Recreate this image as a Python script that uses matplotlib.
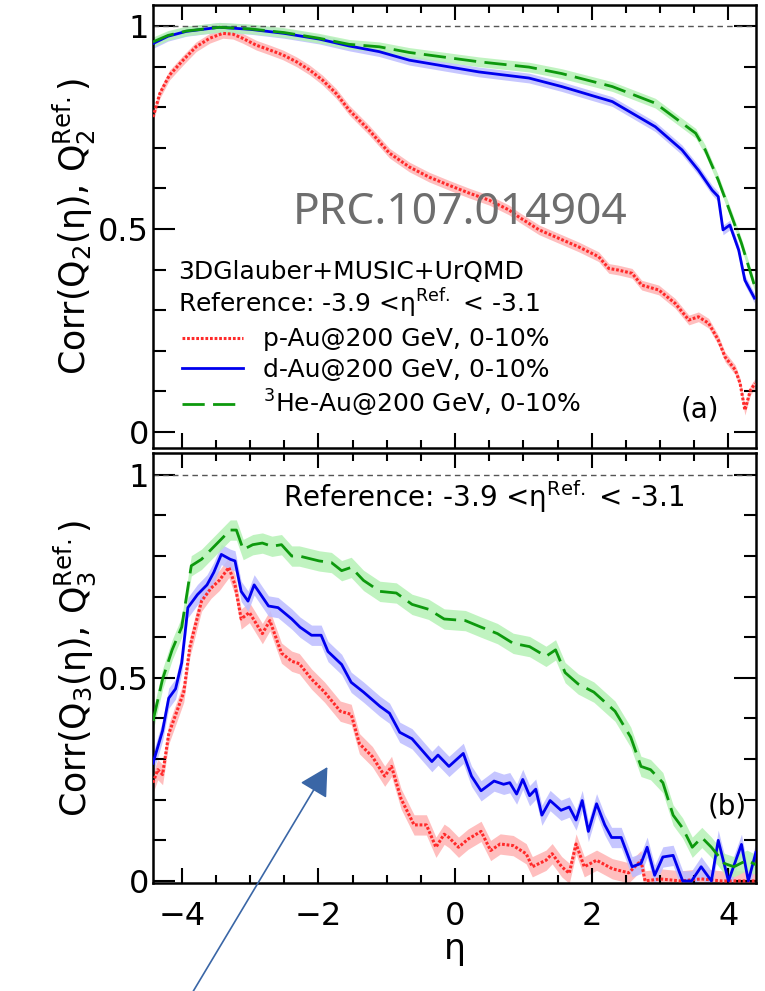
import numpy as np
import matplotlib
matplotlib.use("Agg")
import matplotlib.pyplot as plt
from matplotlib.patches import FancyArrowPatch
from matplotlib.ticker import MultipleLocator, FixedLocator

plt.rcParams["font.family"] = ["DejaVu Sans"]
plt.rcParams["mathtext.fontset"] = "dejavusans"

# -----------------------------------------------------------------------------
# Data: Corr(Q_n(eta), Q_n^Ref.)
# -----------------------------------------------------------------------------
# (a) n = 2
eta_pAu_2 = [-4.42, -4.32, -4.18, -3.98, -3.79, -3.59, -3.40, -3.25, -3.11, -2.91,
             -2.71, -2.52, -2.32, -2.13, -1.94, -1.74, -1.55, -1.26, -0.96, -0.67,
             -0.38, -0.09, 0.20, 0.50, 0.79, 0.93, 1.23, 1.52, 1.81, 2.10,
             2.25, 2.39, 2.59, 2.73, 2.98, 3.22, 3.42, 3.56, 3.71, 3.85,
             3.95, 4.10, 4.17, 4.24, 4.32, 4.39]
corr_pAu_2 = [0.776, 0.834, 0.879, 0.916, 0.949, 0.970, 0.982, 0.980, 0.970, 0.953,
              0.941, 0.929, 0.912, 0.892, 0.867, 0.834, 0.793, 0.744, 0.687, 0.653,
              0.628, 0.608, 0.589, 0.571, 0.547, 0.530, 0.498, 0.477, 0.456, 0.432,
              0.403, 0.399, 0.391, 0.362, 0.350, 0.317, 0.276, 0.284, 0.268, 0.227,
              0.185, 0.153, 0.120, 0.054, 0.103, 0.120]

eta_dAu_2 = [-4.42, -4.20, -3.93, -3.45, -3.00, -2.50, -1.99, -1.55, -1.11, -0.67,
             0.35, 1.08, 1.56, 2.30, 2.93, 3.32, 3.56, 3.76, 3.85, 3.92,
             4.02, 4.15, 4.24, 4.38]
corr_dAu_2 = [0.957, 0.975, 0.987, 0.997, 0.992, 0.982, 0.968, 0.951, 0.937, 0.916,
              0.887, 0.872, 0.851, 0.814, 0.752, 0.695, 0.645, 0.596, 0.580, 0.498,
              0.510, 0.448, 0.374, 0.330]

eta_HeAu_2 = [-4.42, -4.20, -3.93, -3.45, -3.00, -2.50, -1.99, -1.55, -1.11, -0.67,
              0.35, 1.08, 1.56, 2.30, 2.93, 3.52, 3.66, 3.85, 4.05, 4.19,
              4.34, 4.40]
corr_HeAu_2 = [0.961, 0.977, 0.988, 0.997, 0.993, 0.984, 0.970, 0.955, 0.949, 0.935,
               0.912, 0.899, 0.883, 0.851, 0.810, 0.736, 0.695, 0.621, 0.530, 0.465,
               0.383, 0.350]

# (b) n = 3
eta_pAu_3 = [-4.42, -4.35, -4.28, -4.19, -4.07, -3.97, -3.88, -3.71, -3.57, -3.45,
             -3.31, -3.22, -3.13, -3.01, -2.82, -2.71, -2.54, -2.39, -2.28, -2.10,
             -1.91, -1.68, -1.52, -1.40, -1.21, -1.03, -0.93, -0.79, -0.60, -0.42,
             -0.28, -0.16, -0.09, 0.05, 0.19, 0.38, 0.52, 0.66, 0.85, 1.04,
             1.13, 1.33, 1.42, 1.56, 1.67, 1.77, 1.89, 2.07, 2.30, 2.54,
             2.72, 2.78, 3.00, 3.30, 3.60, 3.90, 4.20, 4.40]
corr_pAu_3 = [0.242, 0.274, 0.262, 0.362, 0.418, 0.465, 0.577, 0.689, 0.721, 0.740,
              0.772, 0.729, 0.645, 0.661, 0.609, 0.641, 0.561, 0.541, 0.535, 0.497,
              0.465, 0.418, 0.410, 0.338, 0.306, 0.258, 0.282, 0.202, 0.138, 0.138,
              0.083, 0.115, 0.107, 0.083, 0.103, 0.122, 0.075, 0.091, 0.087, 0.067,
              0.035, 0.051, 0.067, 0.035, 0.019, 0.091, 0.035, 0.051, 0.030, 0.020,
              0.050, 0.000, 0.005, 0.000, 0.005, 0.000, 0.000, 0.000]

eta_dAu_3 = [-4.42, -4.28, -4.19, -4.09, -4.00, -3.91, -3.77, -3.63, -3.53, -3.42,
             -3.29, -3.22, -3.13, -3.03, -2.94, -2.73, -2.59, -2.39, -2.27, -2.10,
             -1.96, -1.86, -1.66, -1.52, -1.34, -1.10, -0.96, -0.81, -0.63, -0.34,
             -0.25, -0.09, 0.12, 0.24, 0.38, 0.57, 0.71, 0.80, 0.90, 0.99,
             1.09, 1.18, 1.27, 1.39, 1.55, 1.67, 1.77, 1.86, 1.95, 2.07,
             2.19, 2.29, 2.43, 2.59, 2.72, 2.81, 2.92, 3.04, 3.19, 3.33,
             3.46, 3.60, 3.75, 3.85, 4.00, 4.19, 4.29, 4.40]
corr_dAu_3 = [0.290, 0.370, 0.450, 0.473, 0.537, 0.673, 0.705, 0.729, 0.760, 0.804,
              0.792, 0.788, 0.713, 0.689, 0.729, 0.677, 0.673, 0.645, 0.625, 0.605,
              0.605, 0.565, 0.533, 0.489, 0.465, 0.430, 0.413, 0.366, 0.350, 0.294,
              0.310, 0.282, 0.314, 0.258, 0.222, 0.246, 0.238, 0.242, 0.214, 0.250,
              0.210, 0.226, 0.162, 0.198, 0.174, 0.182, 0.150, 0.198, 0.122, 0.190,
              0.138, 0.107, 0.107, 0.035, 0.043, 0.083, 0.014, 0.059, 0.063, 0.000,
              0.000, 0.035, 0.000, 0.100, 0.000, 0.090, 0.000, 0.070]

eta_HeAu_3 = [-4.42, -4.28, -4.14, -4.00, -3.86, -3.71, -3.57, -3.43, -3.29, -3.20,
              -3.10, -2.96, -2.82, -2.68, -2.54, -2.39, -2.28, -1.99, -1.81, -1.66,
              -1.52, -1.34, -1.10, -0.86, -0.63, -0.39, -0.16, 0.15, 0.38, 0.62,
              0.85, 1.09, 1.33, 1.47, 1.61, 1.80, 2.03, 2.34, 2.57, 2.72,
              2.86, 3.04, 3.19, 3.33, 3.47, 3.61, 3.75, 3.94, 4.08, 4.27,
              4.40]
corr_HeAu_3 = [0.394, 0.497, 0.569, 0.625, 0.776, 0.792, 0.816, 0.840, 0.864, 0.864,
               0.816, 0.828, 0.832, 0.824, 0.828, 0.800, 0.800, 0.788, 0.784, 0.764,
               0.772, 0.740, 0.713, 0.709, 0.681, 0.669, 0.645, 0.641, 0.625, 0.609,
               0.585, 0.577, 0.553, 0.569, 0.513, 0.485, 0.465, 0.418, 0.354, 0.282,
               0.274, 0.242, 0.162, 0.130, 0.083, 0.107, 0.083, 0.043, 0.035, 0.051,
               0.040]

# statistical band half-widths
err_2 = 0.012
err_3 = 0.025

labels = ["p-Au@200 GeV, 0-10%", "d-Au@200 GeV, 0-10%", r"$^{3}$He-Au@200 GeV, 0-10%"]

# -----------------------------------------------------------------------------
# Styles
# -----------------------------------------------------------------------------
styles = [
    dict(color="#ff2a2a", lw=2.2, ls=(0, (0.9, 0.6)), band="#ffb3b3"),
    dict(color="#0000ee", lw=2.0, ls="-", band="#bcbcff"),
    dict(color="#0d990d", lw=2.0, ls=(0, (8, 3.0)), band="#b5f2b5"),
]

fig = plt.figure(figsize=(7.65, 9.91), dpi=100)
ax_a = fig.add_axes([0.200, 0.548, 0.788, 0.447])
ax_b = fig.add_axes([0.200, 0.109, 0.788, 0.434])


def draw_panel(ax, series, err):
    handles = []
    for (eta, corr), st in zip(series, styles):
        eta = np.asarray(eta)
        corr = np.asarray(corr)
        ax.fill_between(eta, corr - err, corr + err, color=st["band"],
                        lw=0, alpha=0.85, zorder=1)
    for (eta, corr), st, lab in zip(series, styles, labels):
        h, = ax.plot(eta, corr, color=st["color"], lw=st["lw"], ls=st["ls"],
                     label=lab, zorder=3)
        handles.append(h)
    ax.axhline(1.0, color="#555555", lw=1.0, ls=(0, (4, 3)), zorder=2)
    return handles


def style_axes(ax, ylim):
    ax.set_xlim(-4.42, 4.40)
    ax.set_ylim(*ylim)
    ax.xaxis.set_major_locator(MultipleLocator(2))
    ax.xaxis.set_minor_locator(MultipleLocator(0.5))
    ax.yaxis.set_major_locator(FixedLocator([0, 0.5, 1]))
    ax.yaxis.set_minor_locator(MultipleLocator(0.1))
    ax.set_yticklabels(["0", "0.5", "1"])
    ax.tick_params(which="both", direction="in", top=True, right=True, width=1.5)
    ax.tick_params(axis="y", which="major", length=16, labelsize=23, pad=3)
    ax.tick_params(axis="y", which="minor", length=9)
    ax.tick_params(axis="x", which="major", length=11, labelsize=23, pad=13)
    ax.tick_params(axis="x", which="minor", length=6)
    for sp in ax.spines.values():
        sp.set_linewidth(1.8)


series_a = [(eta_pAu_2, corr_pAu_2), (eta_dAu_2, corr_dAu_2), (eta_HeAu_2, corr_HeAu_2)]
series_b = [(eta_pAu_3, corr_pAu_3), (eta_dAu_3, corr_dAu_3), (eta_HeAu_3, corr_HeAu_3)]

handles = draw_panel(ax_a, series_a, err_2)
draw_panel(ax_b, series_b, err_3)
style_axes(ax_a, (-0.039, 1.052))
style_axes(ax_b, (-0.005, 1.054))
ax_a.tick_params(axis="x", labelbottom=False)

ax_a.set_ylabel(r"Corr(Q$_2$(η), Q$_2^{\mathrm{Ref.}}$)", fontsize=25, labelpad=0)
ax_b.set_ylabel(r"Corr(Q$_3$(η), Q$_3^{\mathrm{Ref.}}$)", fontsize=25, labelpad=0)
ax_b.set_xlabel("η", fontsize=25, labelpad=0)

# annotations, panel (a)
ax_a.text(0.232, 0.53, "PRC.107.014904", transform=ax_a.transAxes, fontsize=32,
          family="Noto Sans", color="#6e6e6e", ha="left", va="center", zorder=5)
ax_a.text(0.041, 0.397, "3DGlauber+MUSIC+UrQMD", transform=ax_a.transAxes,
          fontsize=18, ha="left", va="center")
ax_a.text(0.041, 0.327, r"Reference: -3.9 <η$^{\mathrm{Ref.}}$ < -3.1",
          transform=ax_a.transAxes, fontsize=18, ha="left", va="center")
ax_a.legend(handles=handles, loc="upper left", bbox_to_anchor=(0.048, 0.272),
            frameon=False, fontsize=18, handlelength=2.45, handletextpad=0.8,
            borderpad=0, borderaxespad=0, labelspacing=0.25)
ax_a.text(0.907, 0.086, "(a)", transform=ax_a.transAxes, fontsize=20,
          ha="center", va="center")

# annotations, panel (b)
ax_b.text(0.216, 0.898, r"Reference: -3.9 <η$^{\mathrm{Ref.}}$ < -3.1",
          transform=ax_b.transAxes, fontsize=20, ha="left", va="center")
ax_b.text(0.952, 0.177, "(b)", transform=ax_b.transAxes, fontsize=20,
          ha="center", va="center")

# pointer arrow
arrow = FancyArrowPatch((0.245, -0.01), (0.428, 0.226), transform=fig.transFigure,
                        arrowstyle="-|>,head_length=1.1,head_width=0.6",
                        mutation_scale=16, lw=1.2, color="#3a66a6",
                        shrinkA=0, shrinkB=0)
fig.add_artist(arrow)

fig.savefig("out.png", dpi=100)
